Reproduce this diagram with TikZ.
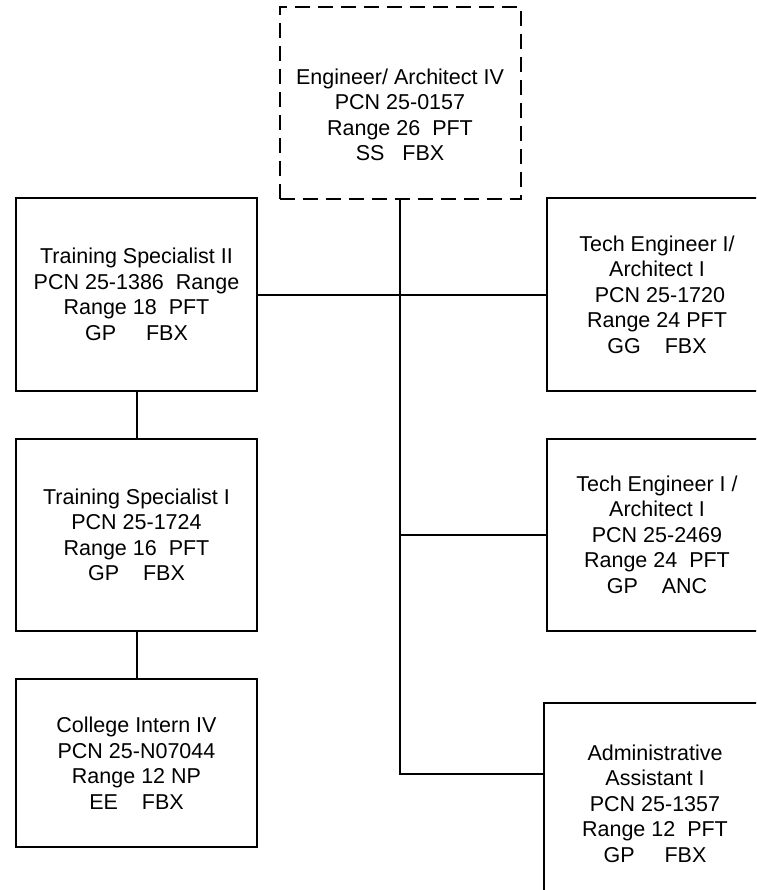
\documentclass[tikz,border=0pt]{standalone}
\usepackage{fontspec}
\setmainfont{Liberation Sans}
\usetikzlibrary{calc}
\tikzset{
    box/.style={draw, line width=2pt, inner sep=0pt,
        minimum width=241pt, minimum height=192pt,
        align=center, font=\fontsize{21.5}{25.5}\selectfont},
    vacant/.style={box, dash pattern=on 15pt off 8pt},
    txt/.style={align=center, inner sep=0pt, font=\fontsize{21.5}{25.5}\selectfont},
    wire/.style={line width=2pt}
}

\begin{document}
\begin{tikzpicture}[x=1pt,y=-1pt]
    \useasboundingbox (0,0) rectangle (756,890);
    \clip (0,0) rectangle (756,890);

    \draw (400,103) node[vacant,
        label={[txt,name=engt,yshift=-12pt]center:{Engineer/ Architect IV\\PCN 25-0157\\Range 26~~PFT\\SS~~~FBX}}](eng){};

    \draw (136.5,294.5) node[box](tsb){Training Specialist II\\PCN 25-1386~~Range\\Range 18~~PFT\\GP~~~~~FBX};
    \draw (136.5,535)   node[box](tsa){Training Specialist I\\PCN 25-1724\\Range 16~~PFT\\GP~~~~FBX};
    \draw (136.5,763)   node[box,minimum height=168pt](intern){College Intern IV\\PCN 25-N07044\\Range 12 NP\\EE~~~~FBX};

    \draw (657,294.5) node[box,minimum width=220pt](techa){Tech Engineer I/\\Architect I\\~PCN 25-1720\\Range 24 PFT\\GG~~~~FBX};
    \draw (657,534.5) node[box,minimum width=220pt](techb){Tech Engineer I /\\Architect I\\PCN 25-2469\\Range 24~~PFT\\GP~~~~ANC};
    \draw (655,803.5) node[box,minimum width=222pt,minimum height=201pt](admin){Administrative\\Assistant I\\PCN 25-1357\\Range 12~~PFT\\GP~~~~~FBX};

    \coordinate (j) at (400,774);

    \draw[wire] (eng.south) -- (j) -- (j -| admin.west);
    \draw[wire] (tsb.east) -- (techa.west);
    \draw[wire] (eng.south |- techb.west) -- (techb.west);
    \draw[wire] (tsb.south) -- (tsa.north);
    \draw[wire] (tsa.south) -- (intern.north);
\end{tikzpicture}
\end{document}
